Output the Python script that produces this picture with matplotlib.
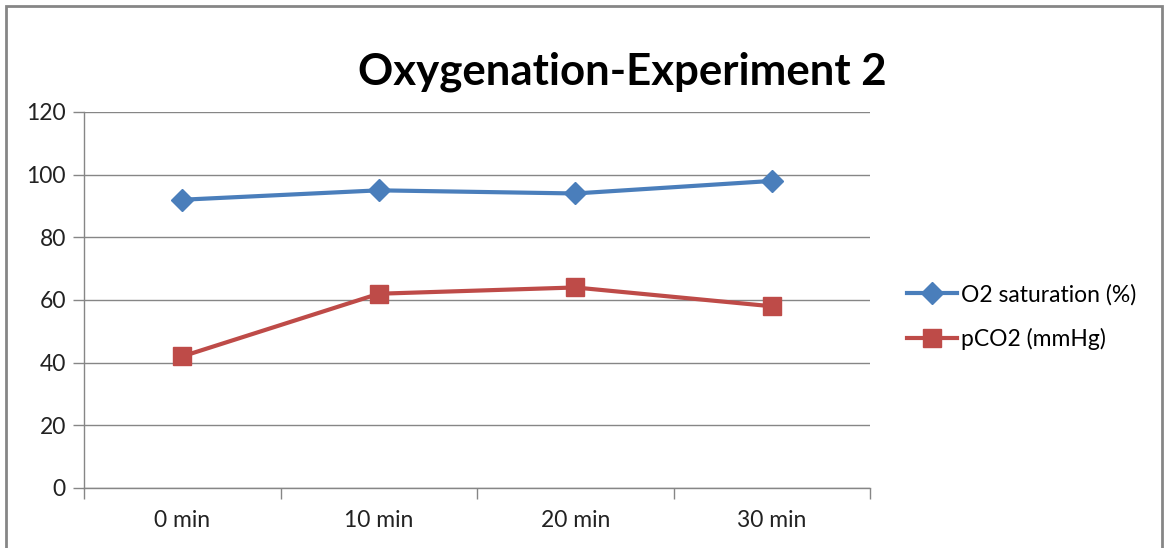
import matplotlib
matplotlib.use("Agg")
import matplotlib.pyplot as plt
from matplotlib.patches import Rectangle

tiempos = ["0 min", "10 min", "20 min", "30 min"]
saturacion_o2 = [92, 95, 94, 98]
pco2 = [42, 62, 64, 58]

plt.rcParams["font.family"] = ["Lato", "DejaVu Sans"]

fig = plt.figure(figsize=(11.64, 5.48), dpi=100)
ax = fig.add_axes([84 / 1164, 1 - 488 / 548, (870 - 84) / 1164, (488 - 112) / 548])

x = list(range(len(tiempos)))
ax.plot(x, saturacion_o2, color="#4A7EBB", lw=3, marker="D", markersize=11,
        label="O2 saturation (%)")
ax.plot(x, pco2, color="#BE4B48", lw=3, marker="s", markersize=13,
        label="pCO2 (mmHg)")

ax.set_xlim(-0.5, 3.5)
ax.set_ylim(0, 120)
ax.set_yticks(range(0, 121, 20))
ax.set_xticks(x)
ax.set_xticklabels(tiempos)
ax.set_xticks([-0.5, 0.5, 1.5, 2.5, 3.5], minor=True)
ax.tick_params(axis="x", which="major", length=0, pad=16, labelsize=16.5, colors="#222222")
ax.tick_params(axis="x", which="minor", length=8, width=1, color="#868686")
ax.tick_params(axis="y", length=8, width=1, color="#868686", pad=5,
               labelsize=16.5, labelcolor="#222222")
ax.grid(True, axis="y", color="#868686", lw=1)
for lado in ["top", "right"]:
    ax.spines[lado].set_visible(False)
for lado in ["left", "bottom"]:
    ax.spines[lado].set_color("#868686")
    ax.spines[lado].set_linewidth(1)

fig.text(622 / 1164, 1 - 72 / 548, "Oxygenation-Experiment 2", ha="center", va="center",
         fontsize=31.5, fontweight="bold", color="black")

ax.legend(loc="center left", bbox_to_anchor=(907 / 1164, 1 - 317 / 548),
          bbox_transform=fig.transFigure, frameon=False, fontsize=16.5,
          handlelength=2.2, handletextpad=0.15, labelspacing=1.0, borderpad=0,
          borderaxespad=0)

fig.patches.append(Rectangle((6 / 1164, -0.1), 1156 / 1164, 1.1 - 6 / 548,
                             transform=fig.transFigure, fill=False,
                             edgecolor="#868686", lw=2))

fig.savefig("out.png", dpi=100)
